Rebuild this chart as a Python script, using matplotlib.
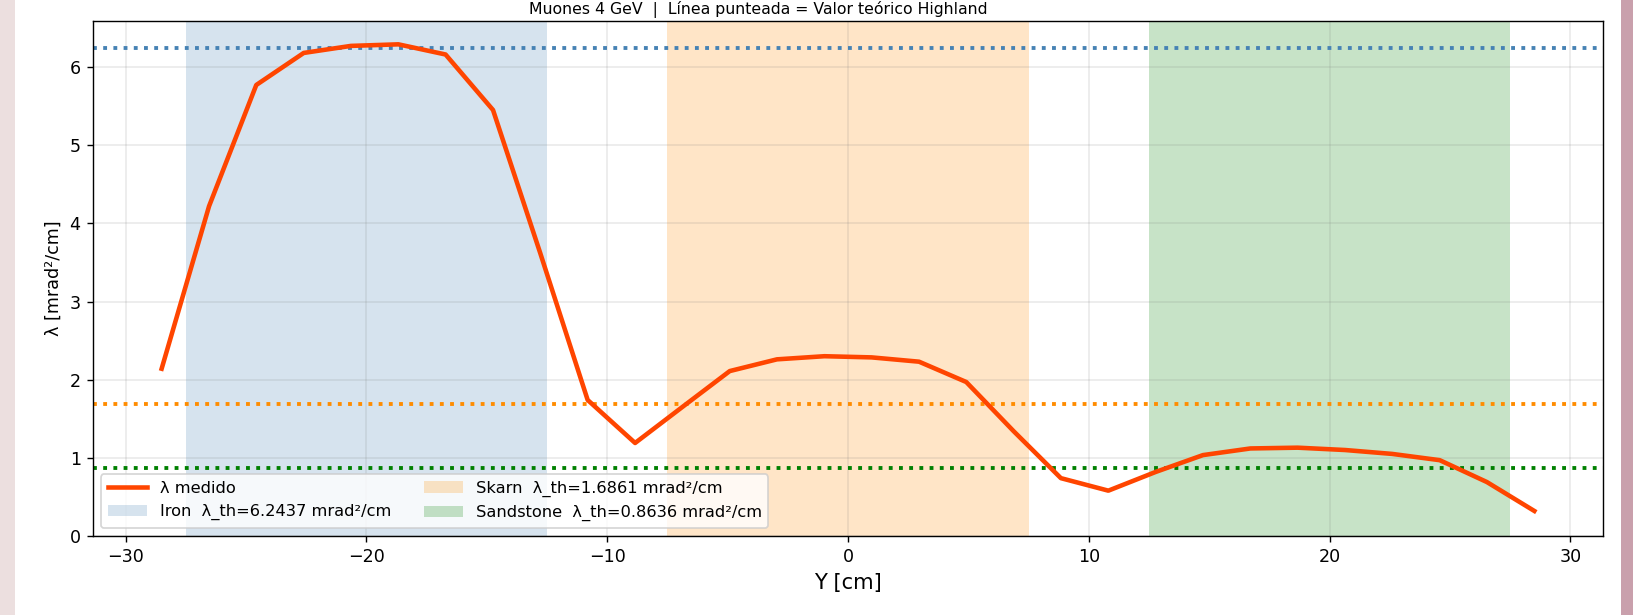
import matplotlib
matplotlib.use("Agg")
import matplotlib.pyplot as plt
from matplotlib.patches import Rectangle

# ---- data ----
y_pos = [-28.5, -26.53, -24.57, -22.6, -20.64, -18.67, -16.71, -14.74, -12.78, -10.81,
         -8.84, -6.88, -4.91, -2.95, -0.98, 0.98, 2.95, 4.91, 6.88, 8.84,
         10.81, 12.78, 14.74, 16.71, 18.67, 20.64, 22.6, 24.57, 26.53, 28.5]
lam_medido = [2.14, 4.22, 5.77, 6.18, 6.27, 6.29, 6.16, 5.45, 3.62, 1.74,
              1.19, 1.65, 2.11, 2.26, 2.30, 2.285, 2.23, 1.97, 1.34, 0.74,
              0.58, 0.82, 1.035, 1.12, 1.13, 1.10, 1.05, 0.97, 0.69, 0.32]
materials = ["Iron", "Skarn", "Sandstone"]
mat_ranges = [(-27.5, -12.5), (-7.5, 7.5), (12.5, 27.5)]
lam_th = [6.2437, 1.6861, 0.8636]
mat_colors = ["steelblue", "darkorange", "green"]
title_text = "Muones 4 GeV  |  Línea punteada = Valor teórico Highland"

W, H, DPI = 1633, 615, 126
fig = plt.figure(figsize=(W / DPI, H / DPI), dpi=DPI)
fig.patch.set_facecolor("white")
ax = fig.add_axes([93 / W, 1 - 536 / H, (1603 - 93) / W, (536 - 21) / H])

for name, (a, b), th, c in zip(materials, mat_ranges, lam_th, mat_colors):
    ax.axvspan(a, b, color=c, alpha=0.22, lw=0,
               label=f"{name}  λ_th={th:.4f} mrad²/cm")
    ax.axhline(th, color=c, ls=":", lw=2.2)

ax.plot(y_pos, lam_medido, color="orangered", lw=2.6, label="λ medido", zorder=5)

ax.set_ylim(bottom=0)
ax.grid(True, color="gray", alpha=0.18, lw=0.9)
ax.set_xlabel("Y [cm]", fontsize=12)
ax.set_ylabel("λ [mrad²/cm]", fontsize=10)

handles, labels = ax.get_legend_handles_labels()
order = [labels.index("λ medido")] + [i for i, l in enumerate(labels) if l != "λ medido"]
ax.legend([handles[i] for i in order], [labels[i] for i in order],
          loc="lower left", ncol=2, fontsize=9.3, framealpha=0.8,
          handlelength=2.4)

fig.text(758 / W, 1 - 14 / H, title_text, ha="center", va="baseline", fontsize=9)

# screenshot edge strips
fig.patches.append(Rectangle((0, 0), 15 / W, 1, transform=fig.transFigure,
                             facecolor="#ecdfdf", edgecolor="none", zorder=-1))
fig.patches.append(Rectangle((1 - 12 / W, 0), 12 / W, 1, transform=fig.transFigure,
                             facecolor="#c9a0ac", edgecolor="none", zorder=-1))

fig.savefig("out.png", dpi=DPI)
